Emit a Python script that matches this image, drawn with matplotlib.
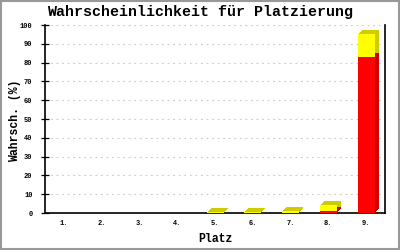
import matplotlib
matplotlib.use('Agg')
import matplotlib.pyplot as plt
import matplotlib.transforms as mtransforms
from matplotlib.patches import Rectangle

# Platz 1..9, probability split into two stacked parts
places = ['1.', '2.', '3.', '4.', '5.', '6.', '7.', '8.', '9.']
red_vals = [0, 0, 0, 0, 0, 0, 0, 0.8, 83.2]
yellow_vals = [0, 0, 0, 0, 0.3, 0.3, 1.0, 3.2, 12.0]

title_text = 'Wahrscheinlichkeit für Platzierung'
xlabel_text = 'Platz'
ylabel_text = 'Wahrsch. (%)'
yticks = list(range(0, 101, 10))

mono = 'Liberation Mono'

fig = plt.figure(figsize=(4, 2.5), dpi=100)
fig.patch.set_facecolor('white')
ax = fig.add_axes([45/400, 1-213/250, 340/400, 188/250])

x = list(range(1, len(places) + 1))
w = 0.45

# fake 3D depth: shifted darker copies behind the front bars
for k in range(1, 5):
    tr = mtransforms.offset_copy(ax.transData, fig=fig, x=k, y=k, units='dots')
    ax.bar(x, red_vals, width=w, color='#cc0000', transform=tr, zorder=2)
    ax.bar(x, yellow_vals, width=w, bottom=red_vals, color='#cccc00', transform=tr, zorder=2)

ax.bar(x, red_vals, width=w, color='#ff0000', zorder=3)
ax.bar(x, yellow_vals, width=w, bottom=red_vals, color='#ffff00', zorder=3)

ax.set_xlim(0.5, 9.5)
ax.set_ylim(0, 100)
ax.set_yticks(yticks)
ax.set_xticks(x)
ax.set_xticklabels(places)

ax.yaxis.grid(True, color='#c8c8c8', linestyle=(0, (1.5, 3.5)), linewidth=0.8)
ax.set_axisbelow(True)

ax.spines['top'].set_visible(False)
for s in ['left', 'bottom', 'right']:
    ax.spines[s].set_linewidth(1.2)
    ax.spines[s].set_color('black')

ax.tick_params(axis='y', direction='inout', length=6, width=0.9, pad=6,
               labelsize=5, labelfontfamily=mono)
ax.tick_params(axis='x', length=0, pad=5, labelsize=5, labelfontfamily=mono)
for lab in ax.get_xticklabels() + ax.get_yticklabels():
    lab.set_fontweight('bold')

fig.text(215/400, 1-239/250, xlabel_text, ha='center', va='center',
         fontfamily=mono, fontweight='bold', fontsize=8.3)
fig.text(15/400, 1-121/250, ylabel_text, ha='center', va='center', rotation=90,
         fontfamily=mono, fontweight='bold', fontsize=8.3)
fig.text(0.5, 1-12/250, title_text, ha='center', va='center',
         fontfamily=mono, fontweight='bold', fontsize=10.8)

# grey frame around the whole picture
fig.patches.append(Rectangle((0.002, 0.003), 0.995, 0.994, transform=fig.transFigure,
                             fill=False, edgecolor='#999999', linewidth=1.5))

fig.savefig('out.png', dpi=100)
